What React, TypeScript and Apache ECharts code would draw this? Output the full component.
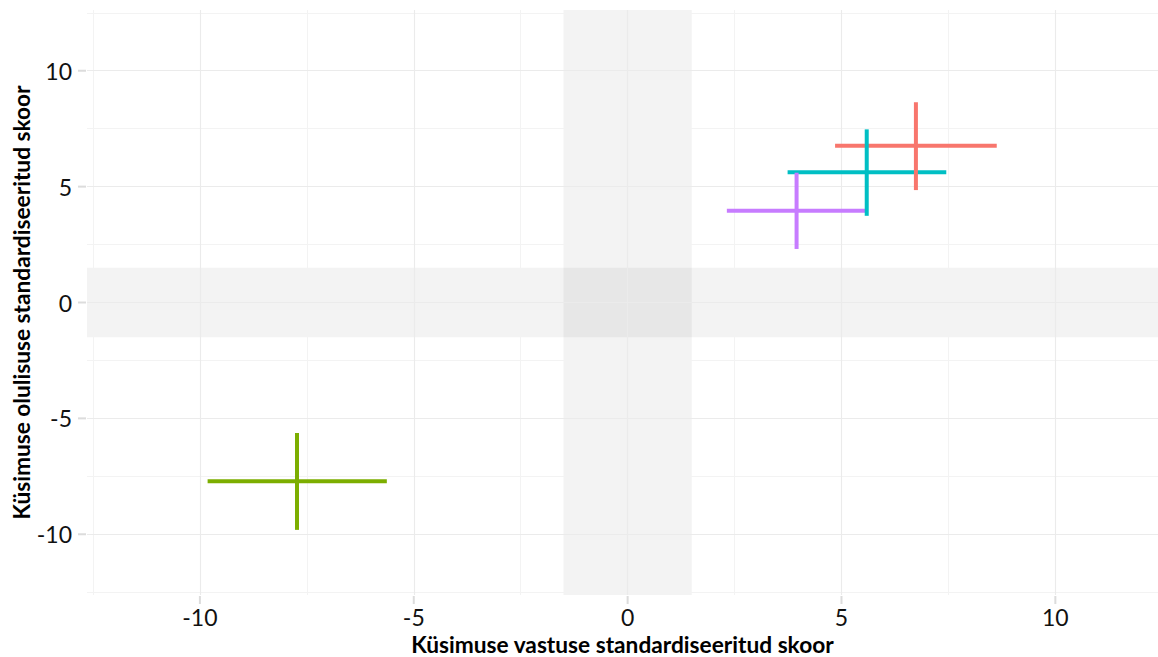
import React, { useEffect, useRef } from "react";
import * as echarts from "echarts";

const groupNames = ["Küsimus 1", "Küsimus 2", "Küsimus 3", "Küsimus 4"];
const groupColors = ["#F8766D", "#7CAE00", "#00BFC4", "#C77CFF"];
const xCenter = [6.74, -7.73, 5.59, 3.95];
const xLow = [4.85, -9.82, 3.74, 2.32];
const xHigh = [8.63, -5.63, 7.45, 5.55];
const yCenter = [6.76, -7.71, 5.62, 3.96];
const yLow = [4.85, -9.81, 3.74, 2.31];
const yHigh = [8.64, -5.63, 7.47, 5.6];

const majorTicks = [-10, -5, 0, 5, 10];
const minorGridX = [-12.5, -7.5, -2.5, 2.5, 7.5];
const minorGridY = [-12.5, -7.5, -2.5, 2.5, 7.5, 12.5];
const bandLow = -1.5;
const bandHigh = 1.5;

const xTitle = "Küsimuse vastuse standardiseeritud skoor";
const yTitle = "Küsimuse olulisuse standardiseeritud skoor";

const FONT = "Lato";

export default function App() {
  const ref = useRef<HTMLDivElement>(null);
  useEffect(() => {
    document.body.style.margin = "0";
    const chart = echarts.init(ref.current!, null, { renderer: "svg" });
    const errData = groupNames.map((n, i) => ({
      name: n,
      value: [xCenter[i], yCenter[i], xLow[i], xHigh[i], yLow[i], yHigh[i]],
      itemStyle: { color: groupColors[i] },
    }));
    const lineW = 4;
    const tickColor = "#dcdcdc";
    const majorStyle = { color: "#ebebeb", width: 1.1, type: "solid" };
    const minorStyle = { color: "#f3f3f3", width: 1, type: "solid" };
    const axisCommon = {
      type: "value",
      axisLine: { show: false, onZero: false },
      splitLine: { show: false },
      axisTick: { show: false },
      axisLabel: {
        customValues: majorTicks,
        color: "#111",
        fontFamily: FONT,
        fontSize: 23,
        lineHeight: 22,
        formatter: (v: number) => String(v),
      },
      nameLocation: "middle",
      nameMoveOverlap: false,
      nameTextStyle: {
        fontFamily: FONT,
        fontWeight: "bold",
        fontSize: 22.7,
        lineHeight: 22,
        color: "#000",
      },
    };
    chart.setOption({
      animation: false,
      backgroundColor: "#fff",
      grid: {
        left: 87,
        right: 0,
        top: 10,
        bottom: 62,
        containLabel: false,
        outerBoundsMode: "none",
      },
      xAxis: {
        ...axisCommon,
        min: -12.64,
        max: 12.4,
        name: xTitle,
        nameGap: 38,
        axisLabel: { ...axisCommon.axisLabel, margin: 11 },
      },
      yAxis: {
        ...axisCommon,
        min: -12.62,
        max: 12.62,
        name: yTitle,
        nameGap: 55,
        axisLabel: { ...axisCommon.axisLabel, margin: 15 },
      },
      series: [
        {
          type: "line",
          data: [],
          silent: true,
          z: 1,
          markArea: {
            silent: true,
            z: 1,
            itemStyle: { color: "rgba(0,0,0,0.047)" },
            data: [
              [{ xAxis: bandLow }, { xAxis: bandHigh }],
              [{ yAxis: bandLow }, { yAxis: bandHigh }],
            ],
          },
          markLine: {
            silent: true,
            z: 1,
            symbol: "none",
            label: { show: false },
            data: [
              ...minorGridX.map((v) => ({ xAxis: v, lineStyle: minorStyle })),
              ...minorGridY.map((v) => ({ yAxis: v, lineStyle: minorStyle })),
              ...majorTicks.map((v) => ({ xAxis: v, lineStyle: majorStyle })),
              ...majorTicks.map((v) => ({ yAxis: v, lineStyle: majorStyle })),
            ],
          },
        },
        {
          type: "custom",
          name: "ticks",
          z: 2,
          silent: true,
          clip: false,
          data: majorTicks.map((v) => [v, v]),
          renderItem: (params: any, api: any) => {
            const cs = params.coordSys;
            const c = api.coord([api.value(0), api.value(1)]);
            return {
              type: "group",
              children: [
                {
                  type: "rect",
                  shape: { x: c[0] - 1, y: cs.y + cs.height + 1, width: 2, height: 8 },
                  style: { fill: tickColor },
                },
                {
                  type: "rect",
                  shape: { x: cs.x - 9, y: c[1] - 1, width: 8, height: 2 },
                  style: { fill: tickColor },
                },
              ],
            };
          },
        },
        {
          type: "custom",
          name: "horizontal",
          z: 10,
          silent: true,
          data: errData,
          renderItem: (params: any, api: any) => {
            const y = api.value(1);
            const a = api.coord([api.value(2), y]);
            const b = api.coord([api.value(3), y]);
            return {
              type: "rect",
              shape: { x: a[0], y: a[1] - lineW / 2, width: b[0] - a[0], height: lineW },
              style: { fill: api.visual("color"), stroke: null },
            };
          },
        },
        {
          type: "custom",
          name: "vertical",
          z: 11,
          silent: true,
          data: errData,
          renderItem: (params: any, api: any) => {
            const x = api.value(0);
            const a = api.coord([x, api.value(4)]);
            const b = api.coord([x, api.value(5)]);
            return {
              type: "rect",
              shape: { x: a[0] - lineW / 2, y: b[1], width: lineW, height: a[1] - b[1] },
              style: { fill: api.visual("color"), stroke: null },
            };
          },
        },
      ],
    });
    return () => chart.dispose();
  }, []);
  return <div ref={ref} style={{ width: 1158, height: 657 }} />;
}
